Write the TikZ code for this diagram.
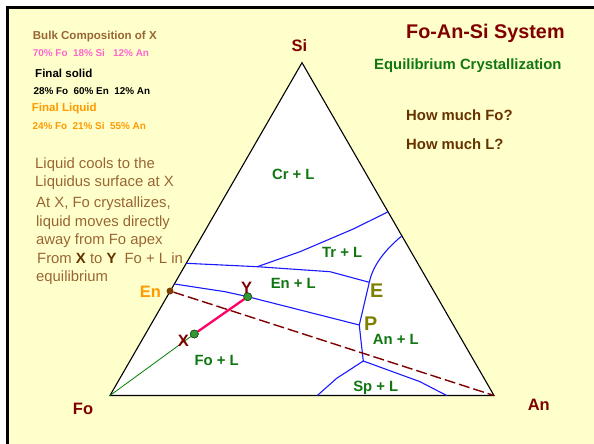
\documentclass[tikz,border=0pt]{standalone}
\usepackage{fontspec}
\setmainfont{Liberation Sans}
\definecolor{bg}{HTML}{FFFFCC}
\definecolor{dred}{HTML}{800000}
\definecolor{brn}{HTML}{996633}
\definecolor{dbrn}{HTML}{663300}
\definecolor{grn}{HTML}{117711}
\definecolor{pnk}{HTML}{FF66CC}
\definecolor{org}{HTML}{FF9900}
\definecolor{olv}{HTML}{808000}
\definecolor{blu}{HTML}{1A1AFF}
\definecolor{mag}{HTML}{FF0066}
\definecolor{dotg}{HTML}{339933}
\definecolor{enb}{HTML}{7F3F00}
\tikzset{
  txt/.style={anchor=base west, inner sep=0pt},
  small/.style={txt, font=\bfseries\fontsize{9.9}{12}\selectfont},
  head/.style={txt, font=\bfseries\fontsize{11.55}{14}\selectfont},
  para/.style={txt, text=brn, font=\fontsize{14.85}{18}\selectfont},
  phase/.style={anchor=base, inner sep=0pt, text=grn, font=\bfseries\fontsize{14.85}{17}\selectfont},
  vlab/.style={anchor=base, inner sep=0pt, text=dred, font=\bfseries\fontsize{16.5}{19}\selectfont},
  ptlab/.style={anchor=base, inner sep=0pt, text=olv, font=\bfseries\fontsize{19.8}{22}\selectfont},
  bnd/.style={blu, line width=1.1pt, line join=round},
  gdot/.style={circle, fill=dotg, draw={rgb,255:red,30;green,80;blue,30}, line width=0.6pt, minimum size=8pt, inner sep=0pt},
  edot/.style={circle, fill=enb, minimum size=7pt, inner sep=0pt}
}
\begin{document}
\begin{tikzpicture}[x=1pt,y=-1pt]
\useasboundingbox (0,0) rectangle (594,444);
\fill[white] (0,0) rectangle (594,444);
\fill[bg] (7.5,7.5) rectangle (594,444);
\draw[line width=3pt] (7.5,444) -- (7.5,7.5) -- (594,7.5);

% triangle
\coordinate (Fo) at (110,395.5);
\coordinate (An) at (494,395.5);
\coordinate (Si) at (302,62.7);
\filldraw[fill=white, draw=black, line width=1.1pt, line join=miter] (Fo) -- (An) -- (Si) -- cycle;

% boundaries
\coordinate (E) at (369.3,282.3);
\coordinate (P) at (359.3,325);
\coordinate (Q) at (363.3,361);
\coordinate (J) at (257.3,266.7);
\draw[bnd] (186.3,263.3) -- (J) -- (300,251.7) -- (353.3,229) -- (388.3,211.7);
\draw[bnd] (J) -- (330,271.7) -- (E);
\draw[bnd] (E) .. controls (373,265) and (385,250) .. (401.7,236);
\draw[bnd] (174.5,284) -- (225,291.7) -- (247.7,296.7) -- (P);
\draw[bnd] (E) -- (P) -- (360.7,338.3) -- (Q);
\draw[bnd] (Q) -- (336.7,378.3) -- (317.3,395.5);
\draw[bnd] (Q) -- (420,381.7) -- (446.7,395.5);

% lines
\node[edot] (En) at (170,291) {};
\draw[dred, line width=1.4pt, dash pattern=on 11pt off 4pt] (En) -- (An);
\node[gdot] (X) at (194.3,334) {};
\node[gdot] (Y) at (247.7,296.7) {};
\draw[green!50!black, line width=0.8pt] (Fo) -- (X);
\draw[mag, line width=2.3pt] (X) -- (Y);
\node[gdot] at (X) {};
\node[gdot] at (Y) {};

% vertex & point labels
\node[vlab] (lSi) at (299.5,51.7) {Si};
\node[vlab] (lFo) at (83,414.8) {Fo};
\node[vlab] (lAn) at (538.8,410.3) {An};
\node[vlab] (lX) at (183.3,346.7) {X};
\node[vlab] (lY) at (246.7,293.3) {Y};
\node[vlab, text=org] (lEn) at (150.5,297.7) {En};
\node[ptlab] (lE) at (376.7,297.3) {E};
\node[ptlab] (lP) at (370.7,330.7) {P};

% phase fields
\node[phase] (cr) at (293.3,179.3) {Cr + L};
\node[phase] (tr) at (342.2,257.3) {Tr + L};
\node[phase] (en) at (293.3,288.3) {En + L};
\node[phase] (an) at (395.8,344.3) {An + L};
\node[phase] (fo) at (216.7,365) {Fo + L};
\node[phase] (sp) at (375.8,391.7) {Sp + L};

% top-left block
\node[head, text=brn] (t1) at (32.7,40) {Bulk Composition of X};
\node[small, text=pnk] (t2) at (32.7,56.7) {70\% Fo\ \ 18\% Si\ \ \ 12\% An};
\node[head, text=black] (t3) at (35,77.3) {Final solid};
\node[small, text=black] (t4) at (33.3,94) {28\% Fo\ \ 60\% En\ \ 12\% An};
\node[head, text=org] (t5) at (31.7,111.7) {Final Liquid};
\node[small, text=org] (t6) at (32.3,129) {24\% Fo\ \ 21\% Si\ \ 55\% An};

% paragraph
\node[para] (p1) at (35,168.3) {Liquid cools to the};
\node[para] (p2) at (35,186) {Liquidus surface at X};
\node[para] (p3) at (36,207.7) {At X, Fo crystallizes,};
\node[para] (p4) at (36,226) {liquid moves directly};
\node[para] (p5) at (36,244) {away from Fo apex};
\node[para] (p6) at (37,263.3) {From \textbf{\textcolor{dbrn}{X}} to \textbf{\textcolor{dbrn}{Y}}\ \ Fo + L in};
\node[para] (p7) at (36,281.7) {equilibrium};

% right block
\node[txt, text=dred, font=\bfseries\fontsize{19.8}{22}\selectfont] (title) at (406,39) {Fo-An-Si System};
\node[txt, text=grn, font=\bfseries\fontsize{14.85}{17}\selectfont] (sub) at (374,69.3) {Equilibrium Crystallization};
\node[txt, text=dbrn, font=\bfseries\fontsize{14.85}{17}\selectfont] (q1) at (406,120) {How much Fo?};
\node[txt, text=dbrn, font=\bfseries\fontsize{14.85}{17}\selectfont] (q2) at (406,149.3) {How much L?};
\end{tikzpicture}
\end{document}
